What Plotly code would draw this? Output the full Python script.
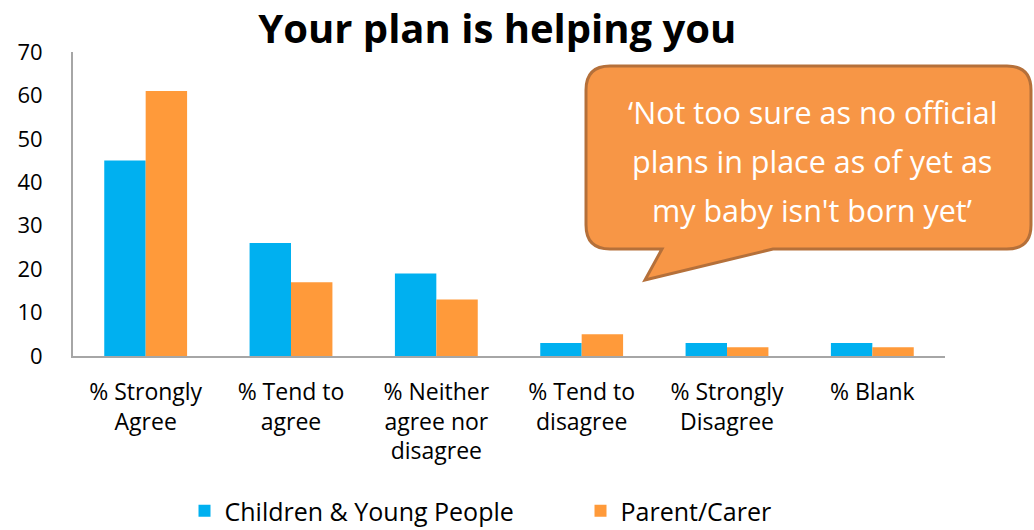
import plotly.graph_objects as go

categories = [
    "% Strongly<br>Agree",
    "% Tend to<br>agree",
    "% Neither<br>agree nor<br>disagree",
    "% Tend to<br>disagree",
    "% Strongly<br>Disagree",
    "% Blank",
]
children_young_people = [45, 26, 19, 3, 3, 3]
parent_carer = [61, 17, 13, 5, 2, 2]
y_ticks = [0, 10, 20, 30, 40, 50, 60, 70]
quote_lines = [
    "\u2018Not too sure as no official",
    "plans in place as of yet as",
    "my baby isn't born yet\u2019",
]

W, H = 1034, 530
ML, MR, MT, MB = 73, 89, 52, 174
PW, PH = W - ML - MR, H - MT - MB


def px(x):
    return (x - ML) / PW


def py(y):
    return (H - MB - y) / PH


FONT = "Open Sans, Noto Sans, sans-serif"

fig = go.Figure()
fig.add_trace(go.Bar(
    name="Children & Young People", x=categories, y=children_young_people,
    marker=dict(color="#00B0F0", line=dict(width=0)),
))
fig.add_trace(go.Bar(
    name="Parent/Carer", x=categories, y=parent_carer,
    marker=dict(color="#FF9A3A", line=dict(width=0)),
))

# speech-bubble callout (pixel outline converted to paper coordinates)
x0, x1, y0, y1, r = 586, 1031, 66, 249, 24
tail = [(773, y1), (645, 280), (662, y1)]
path = f"M {px(x0 + r)},{py(y0)} L {px(x1 - r)},{py(y0)} "
path += f"Q {px(x1)},{py(y0)} {px(x1)},{py(y0 + r)} "
path += f"L {px(x1)},{py(y1 - r)} Q {px(x1)},{py(y1)} {px(x1 - r)},{py(y1)} "
for tx, ty in tail:
    path += f"L {px(tx)},{py(ty)} "
path += f"L {px(x0 + r)},{py(y1)} Q {px(x0)},{py(y1)} {px(x0)},{py(y1 - r)} "
path += f"L {px(x0)},{py(y0 + r)} Q {px(x0)},{py(y0)} {px(x0 + r)},{py(y0)} Z"

fig.add_shape(type="path", path=path, xref="paper", yref="paper",
              fillcolor="#F79646", line=dict(color="#B5703A", width=3), layer="above")

for i, line in enumerate(quote_lines):
    fig.add_annotation(
        text=line, xref="paper", yref="paper", x=px(812), y=py(112 + 49 * i),
        showarrow=False, xanchor="center", yanchor="middle",
        font=dict(family=FONT, size=30.5, color="white"),
    )

fig.update_layout(
    width=W, height=H,
    margin=dict(l=ML, r=MR, t=MT, b=MB, autoexpand=False),
    paper_bgcolor="white", plot_bgcolor="white",
    barmode="group", bargap=0.43, bargroupgap=0,
    title=dict(text="<b>Your plan is helping you</b>", x=0.481, xanchor="center",
               y=1 - 29 / H, yanchor="middle",
               font=dict(family=FONT, size=40, color="black")),
    font=dict(family=FONT, color="black"),
    xaxis=dict(showline=True, linecolor="#A6A6A6", linewidth=2, ticks="",
               tickfont=dict(size=23), showgrid=False, ticklabelstandoff=14,
               automargin=False),
    yaxis=dict(range=[0, 70], tickvals=y_ticks, showline=True, linecolor="#A6A6A6",
               linewidth=2, ticks="", showgrid=False, zeroline=False,
               tickfont=dict(size=22), ticklabelstandoff=24, automargin=False),
    legend=dict(orientation="h", x=0.582, xanchor="center", y=py(511),
                yanchor="middle", font=dict(size=25), itemwidth=30,
                traceorder="normal", entrywidth=351, borderwidth=0),
    showlegend=True,
)

fig.write_html("out.html")
